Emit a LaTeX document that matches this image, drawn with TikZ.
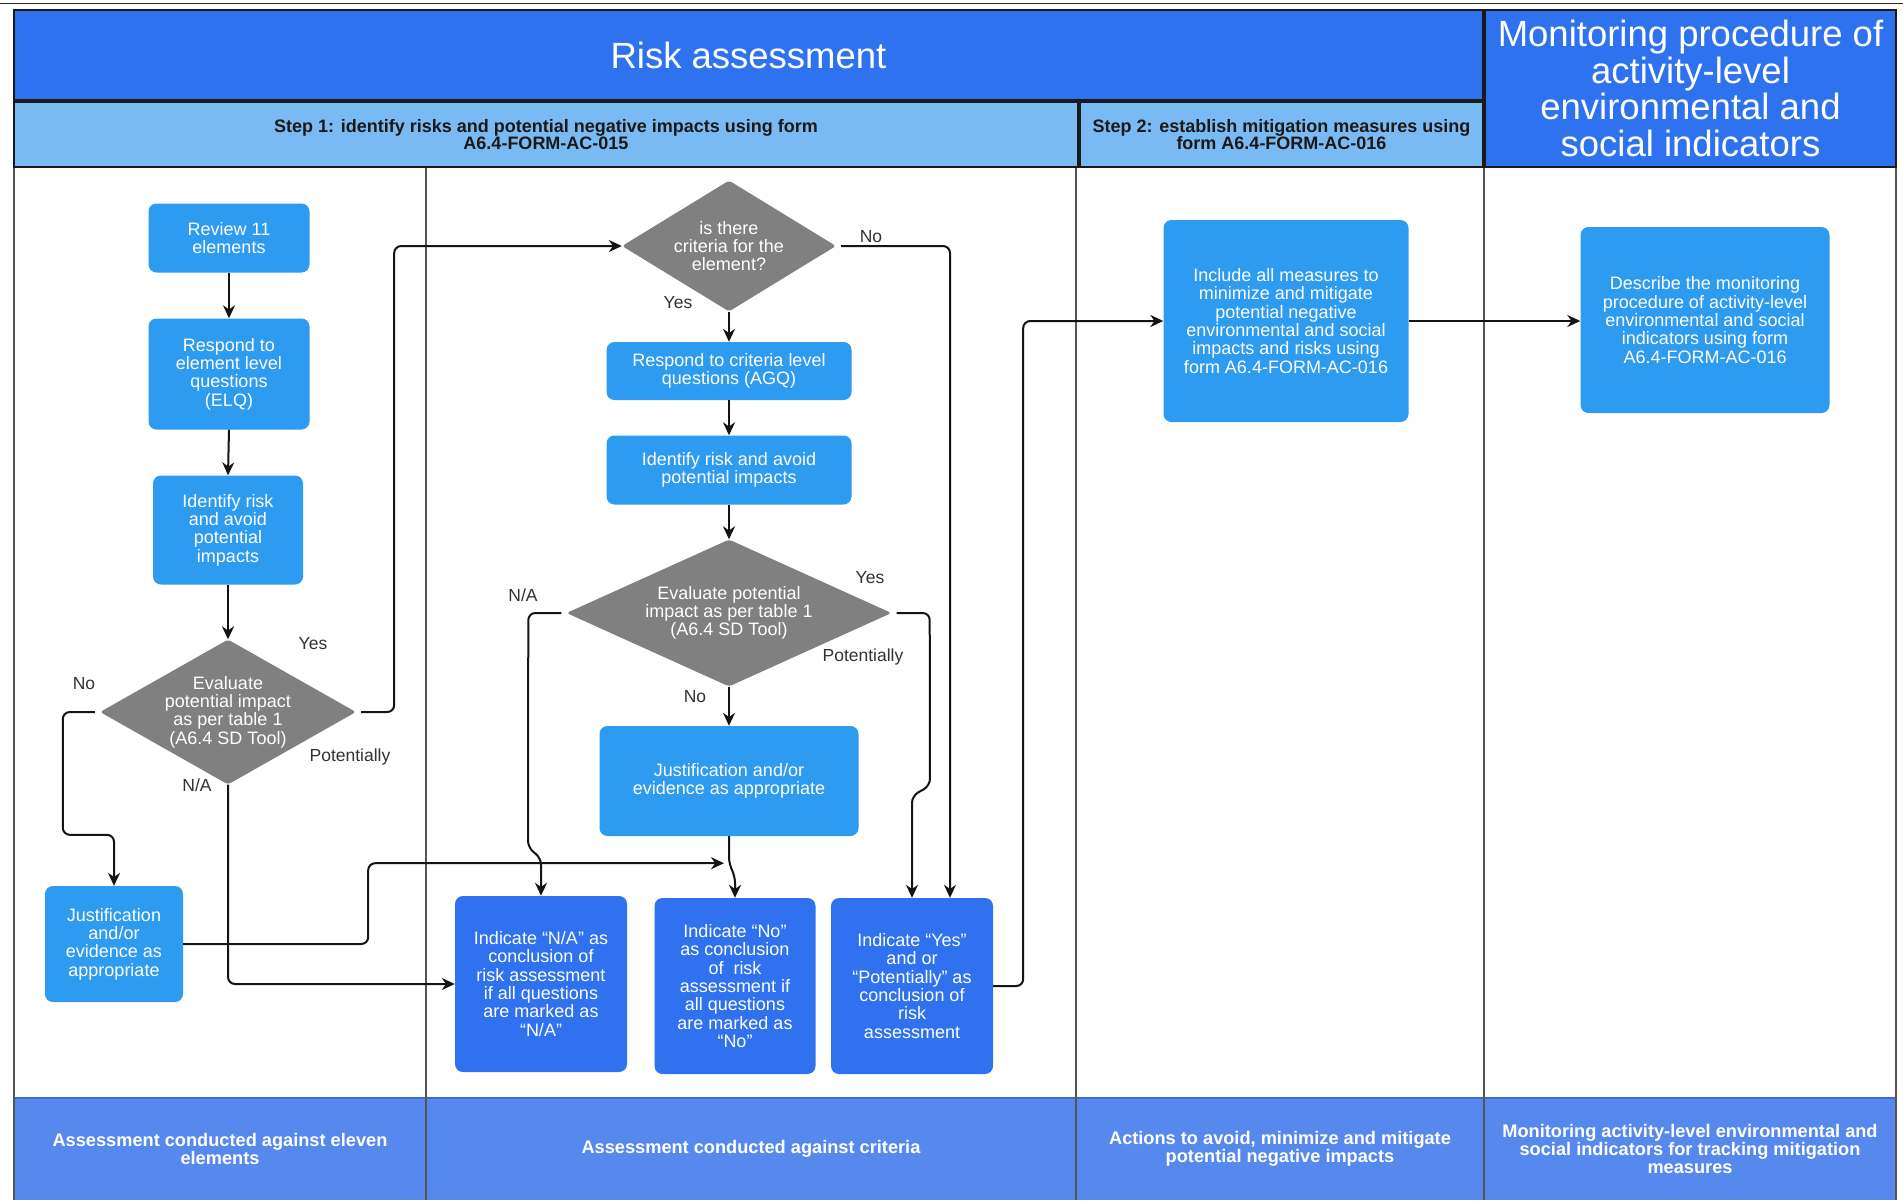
\documentclass[tikz,border=0pt]{standalone}
\usepackage{fontspec}
\setmainfont{Liberation Sans}
\usetikzlibrary{shapes.geometric,arrows.meta}
\definecolor{hdr}{HTML}{2E72F0}
\definecolor{stepc}{HTML}{7ABAF2}
\definecolor{boxc}{HTML}{2D9BF0}
\definecolor{indc}{HTML}{2F71EE}
\definecolor{foot}{HTML}{5689EE}
\definecolor{footline}{HTML}{3E6AD6}
\definecolor{diac}{HTML}{808080}
\definecolor{lanec}{HTML}{555555}
\definecolor{edgec}{HTML}{1A1A1A}
\tikzset{
  cell/.style={rectangle, draw=edgec, line width=2pt, inner sep=2pt, align=center},
  hdrcell/.style={cell, fill=hdr, text=white, font=\fontsize{36.5}{36.5}\selectfont},
  stepcell/.style={cell, fill=stepc, text=black!90, font=\bfseries\fontsize{18}{17.5}\selectfont},
  footcell/.style={rectangle, fill=foot, draw=none, inner sep=2pt, align=center, text=white, font=\bfseries\fontsize{18.2}{18}\selectfont},
  box/.style={rectangle, rounded corners=8pt, fill=boxc, text=white, align=center, inner sep=2pt, font=\fontsize{18}{18.3}\selectfont},
  ind/.style={box, fill=indc},
  dia/.style={diamond, fill=diac, text=white, align=center, inner sep=0pt, rounded corners=3pt, font=\fontsize{18}{18.3}\selectfont},
  arr/.style={draw=black!92, line width=2pt, rounded corners=7pt, -{Stealth[length=13pt,width=12pt]}},
  lbl/.style={text=black!80, inner sep=0pt, font=\fontsize{17.5}{18}\selectfont},
}
\begin{document}
\begin{tikzpicture}[x=1pt,y=-1pt]
\useasboundingbox (0,0) rectangle (1903,1200);
\fill[white] (0,0) rectangle (1903,1200);
\draw[black!85, line width=1pt] (0,3) -- (1903,3);

% header cells
\node[hdrcell, minimum width=1469, minimum height=90] (ra) at (748.5,55) {Risk assessment};
\node[stepcell, minimum width=1064, minimum height=65] (s1) at (546,134.5) {Step 1: identify risks and potential negative impacts using form\\A6.4-FORM-AC-015};
\node[stepcell, minimum width=403, minimum height=65] (s2) at (1281.5,134.5) {Step 2: establish mitigation measures using\\form A6.4-FORM-AC-016};
\node[hdrcell, minimum width=411, minimum height=157] (mon) at (1690.5,88.5) {Monitoring procedure of\\activity-level\\environmental and\\social indicators};

% footer cells
\node[footcell, minimum width=412, minimum height=102] (f1) at (220,1149) {Assessment conducted against eleven\\elements};
\node[footcell, minimum width=650, minimum height=102] (f2) at (751,1149) {Assessment conducted against criteria};
\node[footcell, minimum width=408, minimum height=102] (f3) at (1280,1149) {Actions to avoid, minimize and mitigate\\potential negative impacts};
\node[footcell, minimum width=412, minimum height=102] (f4) at (1690,1149) {Monitoring activity-level environmental and\\social indicators for tracking mitigation\\measures};
\draw[footline, line width=2pt] (14,1098) -- (1896,1098);

% lane lines
\foreach \xx in {14,426,1076,1484,1896}
  \draw[lanec, line width=1.3pt] (\xx,168) -- (\xx,1200);

% lane 1 nodes
\node[box, minimum width=161, minimum height=69] (r11) at (229,238) {Review 11\\elements};
\node[box, minimum width=161, minimum height=111] (elq) at (229,374) {Respond to\\element level\\questions\\(ELQ)};
\node[box, minimum width=150, minimum height=109] (id1) at (228,530) {Identify risk\\and avoid\\potential\\impacts};
\node[dia, minimum width=256, minimum height=145, aspect=1.77] (d1) at (228,712) {Evaluate\\potential impact\\as per table 1\\(A6.4 SD Tool)};
\node[box, minimum width=138, minimum height=116] (j1) at (114,944) {Justification\\and/or\\evidence as\\appropriate};

% lane 2 nodes
\node[dia, minimum width=214, minimum height=131, aspect=1.63] (d2) at (729,246) {is there\\criteria for the\\element?};
\node[box, minimum width=245, minimum height=58] (agq) at (729,371) {Respond to criteria level\\questions (AGQ)};
\node[box, minimum width=245, minimum height=69] (id2) at (729,470) {Identify risk and avoid\\potential impacts};
\node[dia, minimum width=325, minimum height=147, aspect=2.2] (d3) at (729,613) {Evaluate potential\\impact as per table 1\\(A6.4 SD Tool)};
\node[box, minimum width=259, minimum height=110] (j2) at (729,781) {Justification and/or\\evidence as appropriate};
\node[ind, minimum width=172, minimum height=176] (na) at (541,984) {Indicate “N/A” as\\conclusion of\\risk assessment\\if all questions\\are marked as\\“N/A”};
\node[ind, minimum width=161, minimum height=176] (no) at (735,986) {Indicate “No”\\as conclusion\\of\ \ risk\\assessment if\\all questions\\are marked as\\“No”};
\node[ind, minimum width=162, minimum height=176] (yes) at (912,986) {Indicate “Yes”\\and or\\“Potentially” as\\conclusion of\\risk\\assessment};

% lane 3 and 4 nodes
\node[box, minimum width=245, minimum height=202] (inc) at (1286,321) {Include all measures to\\minimize and mitigate\\potential negative\\environmental and social\\impacts and risks using\\form A6.4-FORM-AC-016};
\node[box, minimum width=249, minimum height=186] (desc) at (1705,320) {Describe the monitoring\\procedure of activity-level\\environmental and social\\indicators using form\\A6.4-FORM-AC-016};

% labels
\node[lbl] (l1) at (313,644) {Yes};
\node[lbl] (l2) at (84,684) {No};
\node[lbl] (l3) at (350,757) {Potentially};
\node[lbl] (l4) at (197,785) {N/A};
\node[lbl] (l5) at (678,303) {Yes};
\node[lbl] (l6) at (871,237) {No};
\node[lbl] (l7) at (523,595) {N/A};
\node[lbl] (l8) at (870,578) {Yes};
\node[lbl] (l9) at (863,657) {Potentially};
\node[lbl] (l10) at (695,697) {No};

% connectors lane 1
\draw[arr] (r11.south) -- (elq.north);
\draw[arr] (elq.south) -- (id1.north);
\draw[arr] (id1.south) -- (d1.north);
\draw[arr] ([xshift=5pt]d1.east) -- ++(33,0) |- (d2.west);
\draw[arr] ([xshift=-5pt]d1.west) -- ++(-32,0) |- ([yshift=51pt]j1.north) -- (j1.north);
\draw[arr] (d1.south) |- (na.west);
\coordinate (jt) at ([xshift=-5pt,yshift=-27pt]j2.south);
\draw[arr] (j1.east) -- ++(185,0) |- (jt);

% connectors lane 2
\draw[arr] ([xshift=5pt]d2.east) -| ([xshift=38pt]yes.north);
\draw[arr] (d2.south) -- (agq.north);
\draw[arr] (agq.south) -- (id2.north);
\draw[arr] (id2.south) -- (d3.north);
\draw[arr] ([xshift=-5pt]d3.west) -- ++(-33,0) -- ([xshift=-13pt,yshift=48pt]na.north) -- ([yshift=38pt]na.north) -- (na.north);
\draw[arr] ([xshift=5pt]d3.east) -- ++(33,0) -- ([xshift=18pt,yshift=112pt]yes.north) -- ([yshift=102pt]yes.north) -- (yes.north);
\draw[arr] (d3.south) -- (j2.north);
\draw[arr] (j2.south) -- ++(0,28) -- ([yshift=22pt]no.north) -- (no.north);

% connectors to lanes 3 and 4
\draw[arr] (yes.east) -- ++(30,0) |- (inc.west);
\draw[arr] (inc.east) -- (inc.east -| desc.west);
\end{tikzpicture}
\end{document}
